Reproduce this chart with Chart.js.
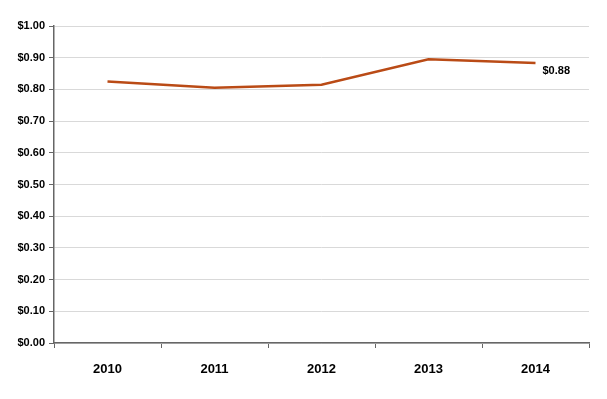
<!DOCTYPE html>
<html><head><meta charset="utf-8">
<script src="https://cdn.jsdelivr.net/npm/chart.js@4/dist/chart.umd.min.js"></script>
<style>html,body{margin:0;padding:0;background:#fff}#wrap{width:607px;height:399px}</style>
</head><body><div id="wrap"><canvas id="c" width="607" height="399"></canvas></div>
<script>
const categories = ["2010", "2011", "2012", "2013", "2014"];
const values = [0.825, 0.805, 0.815, 0.895, 0.883];
const yTicks = [0, 0.1, 0.2, 0.3, 0.4, 0.5, 0.6, 0.7, 0.8, 0.9, 1.0];
const endLabel = "$0.88";

const endLabelPlugin = {
  id: 'endLabel',
  afterDatasetsDraw(chart) {
    const meta = chart.getDatasetMeta(0);
    const pt = meta.data[meta.data.length - 1];
    const ctx = chart.ctx;
    ctx.save();
    ctx.font = 'bold 11px "Liberation Sans", Arial, sans-serif';
    ctx.fillStyle = '#000';
    ctx.textAlign = 'left';
    ctx.textBaseline = 'middle';
    ctx.fillText(endLabel, pt.x + 7, pt.y + 8);
    ctx.restore();
  }
};

new Chart(document.getElementById('c'), {
  type: 'line',
  data: {
    labels: categories,
    datasets: [{
      data: values,
      borderColor: '#BA4B16',
      borderWidth: 2.5,
      pointRadius: 0,
      tension: 0,
      fill: false
    }]
  },
  options: {
    responsive: false,
    animation: false,
    layout: { padding: { top: 26, right: 18, left: 0, bottom: 0 } },
    plugins: { legend: { display: false }, tooltip: { enabled: false } },
    scales: {
      x: {
        offset: true,
        grid: { offset: true, drawOnChartArea: false, drawTicks: true, tickLength: 5, color: '#666', lineWidth: 1 },
        border: { color: '#666', width: 1.5 },
        ticks: { font: { family: '"Liberation Sans", Arial, sans-serif', size: 13, weight: 'bold' }, color: '#000', padding: 14, maxRotation: 0 },
        afterFit(s) { s.height = 56; }
      },
      y: {
        min: 0, max: 1,
        afterBuildTicks(s) { s.ticks = yTicks.map(v => ({ value: v })); },
        grid: { color: '#d9d9d9', lineWidth: 1, drawTicks: true, tickLength: 5, tickColor: '#666' },
        border: { color: '#666', width: 1.5 },
        ticks: {
          font: { family: '"Liberation Sans", Arial, sans-serif', size: 11, weight: 'bold' }, color: '#000', padding: 4,
          callback: v => '$' + Number(v).toFixed(2)
        },
        afterFit(s) { s.width = 54; }
      }
    }
  },
  plugins: [endLabelPlugin]
});
</script>
</body></html>
